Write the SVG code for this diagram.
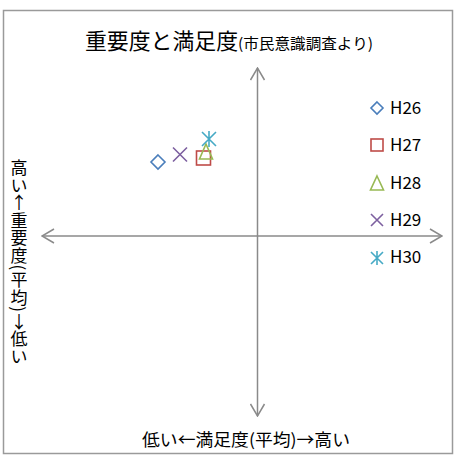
<svg xmlns="http://www.w3.org/2000/svg" width="454" height="457" viewBox="0 0 454 457">
<defs>
<style>
.t{font-family:"Noto Sans CJK JP","Noto Sans",sans-serif;fill:#000}
.ax{stroke:#8a8a8a;stroke-width:1.5;fill:none}
.m{fill:none;stroke-width:1.6}
.b{stroke:#4a7ebb}.r{stroke:#be4b48}.g{stroke:#98b954}.p{stroke:#7d60a0}.c{stroke:#46aac5}
.lg{font-size:17px}
</style>
<marker id="ah" viewBox="0 0 14 16" refX="13" refY="8" markerWidth="14" markerHeight="16" markerUnits="userSpaceOnUse" orient="auto">
<path d="M1,1 L13,8 L1,15" fill="none" stroke="#8a8a8a" stroke-width="1.5"/>
</marker>
</defs>
<rect x="0" y="0" width="454" height="457" fill="#fff"/>
<rect x="3.5" y="10.5" width="449" height="443" fill="#fff" stroke="#9a9a9a" stroke-width="1.5"/>
<g id="connectors">
<line class="ax" x1="257.5" y1="236" x2="42" y2="236" marker-end="url(#ah)"/>
<line class="ax" x1="257.5" y1="236" x2="442" y2="236" marker-end="url(#ah)"/>
<line class="ax" x1="257.5" y1="236" x2="257.5" y2="68" marker-end="url(#ah)"/>
<line class="ax" x1="257.5" y1="236" x2="257.5" y2="416" marker-end="url(#ah)"/>
</g>
<g id="title">
<text class="t" x="85" y="49" font-size="22" textLength="153" lengthAdjust="spacingAndGlyphs">重要度と満足度</text>
<text class="t" x="238" y="49" font-size="15" textLength="135" lengthAdjust="spacingAndGlyphs">(市民意識調査より)</text>
</g>
<g id="x-label">
<text class="t" x="142" y="446" font-size="17" textLength="208" lengthAdjust="spacingAndGlyphs">低い←満足度(平均)→高い</text>
</g>
<g id="y-label">
<text class="t" x="19" y="159" font-size="17" letter-spacing="0.6" style="writing-mode:vertical-rl;text-orientation:mixed">高い<tspan style="text-orientation:upright">↑</tspan>重要度(平均)<tspan style="text-orientation:upright">↓</tspan>低い</text>
</g>
<g id="H26">
<path class="m b" d="M158,155 L165,162 L158,169 L151,162 Z"/>
<path class="m b" d="M377,102 L383,108 L377,114 L371,108 Z"/>
<text class="t lg" x="390" y="114">H26</text>
</g>
<g id="H27">
<rect class="m r" x="196.5" y="151" width="14" height="14"/>
<rect class="m r" x="371" y="139" width="12" height="12"/>
<text class="t lg" x="390" y="151">H27</text>
</g>
<g id="H28">
<path class="m g" d="M206,144 L212.5,159 L199.5,159 Z"/>
<path class="m g" d="M377,176 L383.5,190 L370.5,190 Z"/>
<text class="t lg" x="390" y="189">H28</text>
</g>
<g id="H29">
<path class="m p" d="M173,147.5 L187,161.5 M187,147.5 L173,161.5"/>
<path class="m p" d="M371,214 L383,226 M383,214 L371,226"/>
<text class="t lg" x="390" y="226">H29</text>
</g>
<g id="H30">
<path class="m c" d="M202,132 L216,146 M216,132 L202,146 M209,131 L209,147"/>
<path class="m c" d="M371,252 L383,264 M383,252 L371,264 M377,251 L377,265"/>
<text class="t lg" x="390" y="263">H30</text>
</g>
</svg>
